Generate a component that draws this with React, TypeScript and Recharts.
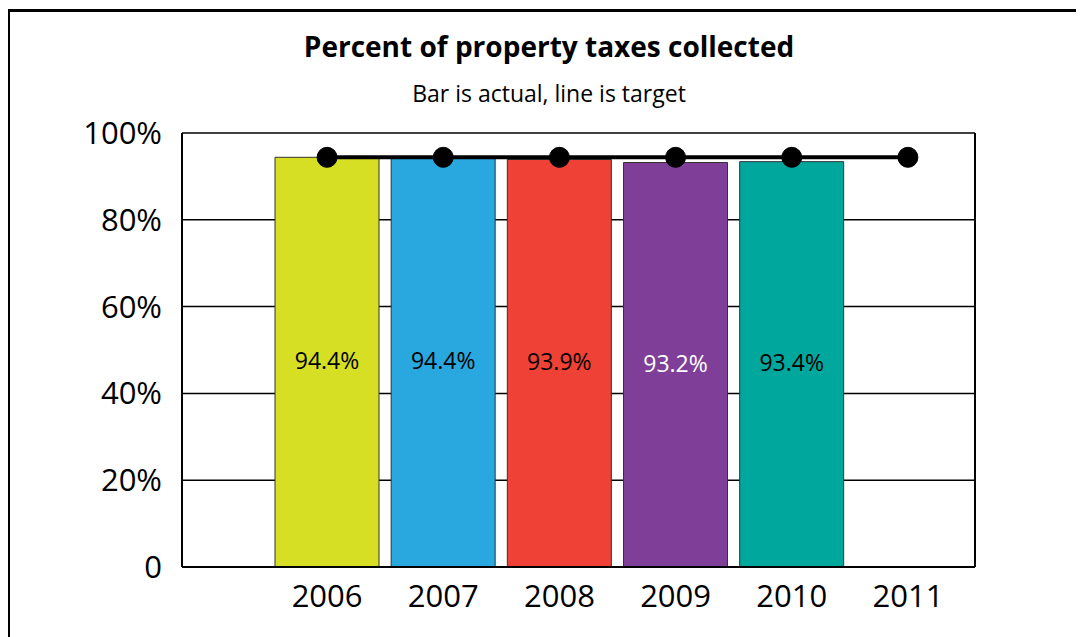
import React from 'react';
import { ComposedChart, Bar, Line, XAxis, YAxis, CartesianGrid, Cell, LabelList } from 'recharts';

const years = ['2006', '2007', '2008', '2009', '2010', '2011'];
const actual = [94.4, 94.4, 93.9, 93.2, 93.4, null];
const target = [94.4, 94.4, 94.4, 94.4, 94.4, 94.4];
const barColors = ['#d6df23', '#29a8e0', '#ef4136', '#7f3f98', '#00a79d', '#ffffff'];
const labelColors = ['#000000', '#000000', '#000000', '#ffffff', '#000000', '#000000'];
const yTicks = [0, 20, 40, 60, 80, 100];

const data = years.map((year, i) => ({ year, actual: actual[i], target: target[i] }));

const font = '"Open Sans", "Noto Sans", sans-serif';

const renderLabel = (props: any) => {
  const { x, y, width, height, value, index } = props;
  if (value == null) return null;
  return (
    <text
      x={x + width / 2}
      y={y + height / 2 - 2}
      textAnchor="middle"
      dominantBaseline="central"
      fontSize={23}
      fontFamily={font}
      fill={labelColors[index]}
    >
      {value.toFixed(1)}%
    </text>
  );
};

const App: React.FC = () => {
  return (
    <div style={{ position: 'relative', width: 1084, height: 637 }}>
      <div
        style={{
          position: 'absolute',
          left: -1,
          top: 1,
          width: 1077,
          height: 628,
          borderTop: '3px solid #000',
          borderLeft: '3px solid #000',
        }}
      />
      <div style={{ position: 'absolute', left: -8, top: -8 }}>
        <ComposedChart
          width={1084}
          height={637}
          data={data}
          margin={{ top: 133, right: 99, left: 102, bottom: 30 }}
          barCategoryGap={6}
        >
          <text x={549} y={57} textAnchor="middle" fontSize={28} fontWeight="bold" fontFamily={font} fill="#000">
            Percent of property taxes collected
          </text>
          <text x={549} y={102} textAnchor="middle" fontSize={23} fontFamily={font} fill="#000">
            Bar is actual, line is target
          </text>
          <CartesianGrid vertical={false} stroke="#000" strokeWidth={1.5} />
          <XAxis
            dataKey="year"
            padding={{ left: 87, right: 9 }}
            tickLine={false}
            axisLine={{ stroke: '#000', strokeWidth: 2 }}
            tick={{ fontSize: 31, fill: '#000', fontFamily: font }}
            tickMargin={12}
            height={40}
          />
          <YAxis
            domain={[0, 100]}
            ticks={yTicks}
            tickFormatter={(v: number) => (v === 0 ? '0' : `${v}%`)}
            tickLine={false}
            axisLine={{ stroke: '#000', strokeWidth: 2 }}
            tick={{ fontSize: 31, fill: '#000', fontFamily: font }}
            tickMargin={14}
            width={80}
          />
          <YAxis
            yAxisId="right"
            orientation="right"
            domain={[0, 100]}
            ticks={yTicks}
            tick={false}
            tickLine={false}
            axisLine={{ stroke: '#000', strokeWidth: 2 }}
            width={10}
          />
          <Bar dataKey="actual" stroke="#333" strokeWidth={1} isAnimationActive={false}>
            {data.map((d, i) => (
              <Cell key={d.year} fill={barColors[i]} />
            ))}
            <LabelList dataKey="actual" content={renderLabel} />
          </Bar>
          <Line
            yAxisId="right"
            dataKey="target"
            stroke="#000"
            strokeWidth={4}
            dot={{ r: 10, fill: '#000', stroke: '#000', strokeWidth: 1 }}
            activeDot={false}
            isAnimationActive={false}
          />
        </ComposedChart>
      </div>
    </div>
  );
};

export default App;
